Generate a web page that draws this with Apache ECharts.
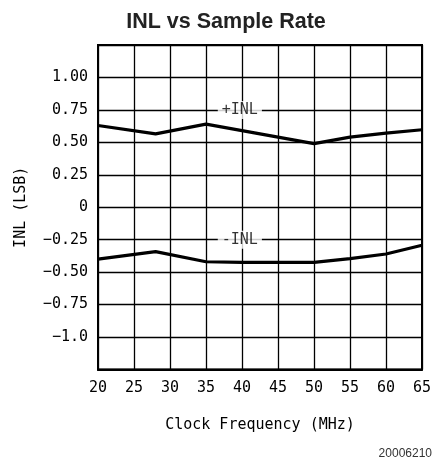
<!DOCTYPE html>
<html>
<head>
<meta charset="utf-8">
<script src="https://cdn.jsdelivr.net/npm/echarts@6/dist/echarts.min.js"></script>
<style>html,body{margin:0;padding:0;background:#fff}#c{width:435px;height:466px}</style>
</head>
<body>
<div id="c"></div>
<script>
const titleText = 'INL vs Sample Rate';
const xName = 'Clock Frequency (MHz)';
const yName = 'INL (LSB)';
const footnote = '20006210';
const yTickLabels = {'1':'1.00','0.75':'0.75','0.5':'0.50','0.25':'0.25','0':'0','-0.25':'\u22120.25','-0.5':'\u22120.50','-0.75':'\u22120.75','-1':'\u22121.0'};
const posINL = [[20,0.63],[28,0.565],[35,0.64],[40,0.59],[45,0.54],[50,0.49],[55,0.54],[60,0.571],[65,0.597]];
const negINL = [[20,-0.40],[28,-0.342],[35,-0.42],[40,-0.425],[45,-0.425],[50,-0.425],[55,-0.396],[60,-0.36],[65,-0.293]];
const seriesLabels = [{text:'+INL', x:39.7, y:0.75},{text:'-INL', x:39.7, y:-0.25}];

const mono = 'DejaVu Sans Mono';
const chart = echarts.init(document.getElementById('c'), null, {renderer:'canvas'});
chart.setOption({
  animation:false,
  backgroundColor:'#fff',
  title:{text:titleText,left:221,textAlign:'center',top:6,textStyle:{fontFamily:'Liberation Sans',fontWeight:'bold',fontSize:21.5,color:'#222'}},
  graphic:[{type:'text',right:3,top:448,style:{text:footnote,font:'12px "Liberation Sans"',fill:'#333'}}],
  grid:{left:98,right:13,top:45,bottom:96.5,show:true,borderColor:'#000',borderWidth:2,backgroundColor:'transparent'},
  xAxis:{type:'value',min:20,max:65,interval:5,
    name:xName,nameLocation:'middle',nameGap:48,nameTextStyle:{fontFamily:mono,fontSize:15,color:'#000'},
    axisLine:{show:true,onZero:false,lineStyle:{color:'#000',width:2}},axisTick:{show:false},
    axisLabel:{margin:11,fontFamily:mono,fontSize:15,color:'#000'},
    splitLine:{show:true,lineStyle:{color:'#000',width:1.3}}},
  yAxis:{type:'value',min:-1.25,max:1.25,interval:0.25,
    name:yName,nameLocation:'middle',nameGap:69,nameRotate:90,nameTextStyle:{fontFamily:mono,fontSize:15,color:'#000'},
    axisLine:{show:true,onZero:false,lineStyle:{color:'#000',width:2}},axisTick:{show:false},
    axisLabel:{margin:10,fontFamily:mono,fontSize:15,color:'#000',
      formatter:v=>{const k=String(Math.round(v*100)/100);return yTickLabels[k]!==undefined?yTickLabels[k]:'';}},
    splitLine:{show:true,lineStyle:{color:'#000',width:1.3}}},
  series:[
    {type:'line',data:posINL,showSymbol:false,lineStyle:{color:'#000',width:3.2},z:3},
    {type:'line',data:negINL,showSymbol:false,lineStyle:{color:'#000',width:3.2},z:3},
    {type:'scatter',symbolSize:0,z:4,data:seriesLabels.map(d=>({value:[d.x,d.y],name:d.text})),
      label:{show:true,position:'inside',formatter:p=>p.name,fontFamily:mono,fontSize:15,color:'#000',
        backgroundColor:'#fff',padding:[2,4,1,4]}}
  ]
});
</script>
</body>
</html>
